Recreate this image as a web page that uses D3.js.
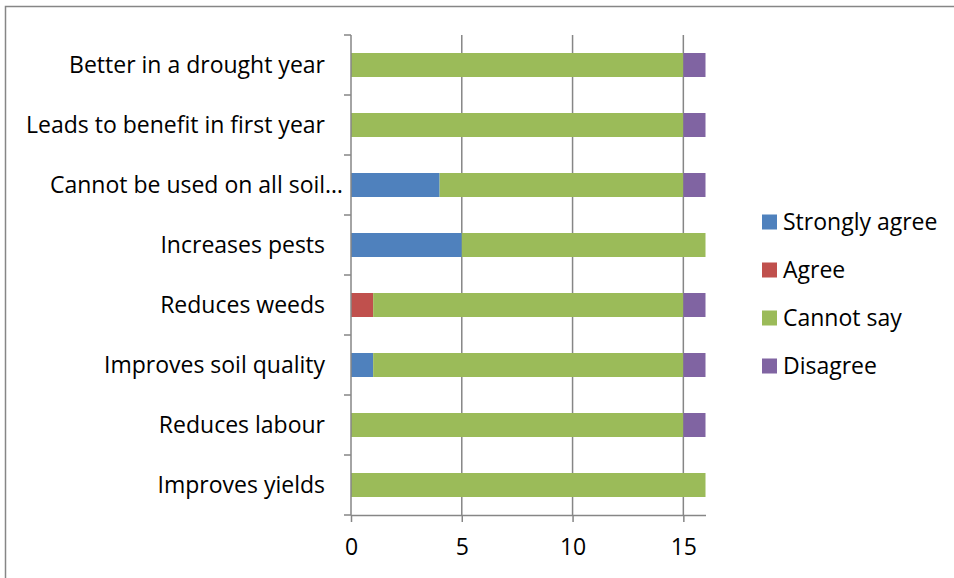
<!DOCTYPE html>
<html>
<head>
<meta charset="utf-8">
<script src="https://cdn.jsdelivr.net/npm/d3@7"></script>
<style>
  body { margin: 0; background: #fff; }
  svg text { font-family: "Open Sans", Lato, sans-serif; fill: #000; }
</style>
</head>
<body>
<div id="CHART"></div>
<script>
// ---------------- data ----------------
var categories = ["Better in a drought year", "Leads to benefit in first year", "Cannot be used on all soil\u2026",
  "Increases pests", "Reduces weeds", "Improves soil quality", "Reduces labour", "Improves yields"];
var seriesNames = ["Strongly agree", "Agree", "Cannot say", "Disagree"];
var stronglyAgree = [0, 0, 4, 5, 0, 1, 0, 0];
var agree = [0, 0, 0, 0, 1, 0, 0, 0];
var cannotSay = [15, 15, 11, 11, 14, 14, 15, 16];
var disagree = [1, 1, 1, 0, 1, 1, 1, 0];
var xTicks = [0, 5, 10, 15];
var colors = ["#4F81BD", "#C0504D", "#9BBB59", "#8064A2"];

// ---------------- svg ----------------
var width = 954, height = 578;
var fontSize = "23px";
var svg = d3.select("#CHART").append("svg")
  .attr("width", width)
  .attr("height", height);

svg.append("rect")
  .attr("x", 5.5).attr("y", 6.5)
  .attr("width", 980).attr("height", 600)
  .attr("fill", "none").attr("stroke", "#868686").attr("stroke-width", 1.5);

var x = d3.scaleLinear().domain([0, 16]).range([351, 705.5]);
var y = d3.scaleBand().domain(categories).range([35, 515]).paddingInner(0.6).paddingOuter(0.3);

var table = categories.map(function (c, i) {
  return { cat: c, "Strongly agree": stronglyAgree[i], "Agree": agree[i], "Cannot say": cannotSay[i], "Disagree": disagree[i] };
});
var stacked = d3.stack().keys(seriesNames)(table);

// gridlines
svg.append("g")
  .selectAll("line")
  .data(xTicks.filter(function (d) { return d > 0; }))
  .enter().append("line")
  .attr("x1", function (d) { return x(d); })
  .attr("x2", function (d) { return x(d); })
  .attr("y1", 35).attr("y2", 515)
  .attr("stroke", "#868686").attr("stroke-width", 1.5);

// bars
svg.append("g")
  .selectAll("g")
  .data(stacked)
  .enter().append("g")
  .attr("fill", function (d, i) { return colors[i]; })
  .selectAll("rect")
  .data(function (d) { return d; })
  .enter().append("rect")
  .attr("x", function (d) { return x(d[0]); })
  .attr("width", function (d) { return x(d[1]) - x(d[0]); })
  .attr("y", function (d) { return y(d.data.cat); })
  .attr("height", y.bandwidth());

// y axis (category ticks at band boundaries)
var yAxis = svg.append("g");
yAxis.append("line")
  .attr("x1", 351).attr("x2", 351).attr("y1", 35).attr("y2", 515)
  .attr("stroke", "#868686").attr("stroke-width", 1.5);
var bounds = categories.map(function (c) { return y(c) - y.step() * y.paddingInner() / 2; });
bounds.push(515);
yAxis.selectAll("line.tk")
  .data(bounds)
  .enter().append("line")
  .attr("class", "tk")
  .attr("x1", 344).attr("x2", 351)
  .attr("y1", function (d) { return d; }).attr("y2", function (d) { return d; })
  .attr("stroke", "#868686").attr("stroke-width", 1.5);
yAxis.selectAll("text")
  .data(categories)
  .enter().append("text")
  // truncated label (ellipsis) sits closer to the axis, like Excel does
  .attr("x", function (d) { return d.slice(-1) == "\u2026" ? 343 : 325; })
  .attr("y", function (d) { return y(d) + y.bandwidth() / 2; })
  .attr("dy", "0.35em")
  .attr("text-anchor", "end")
  .style("font-size", fontSize)
  .text(function (d) { return d; });

// x axis
var xAxis = svg.append("g")
  .attr("transform", "translate(0,515)")
  .call(d3.axisBottom(x).tickValues(xTicks).tickSize(7).tickSizeOuter(0).tickPadding(17));
xAxis.select(".domain").attr("stroke", "#868686").attr("stroke-width", 1.5);
xAxis.selectAll(".tick line").attr("stroke", "#868686").attr("stroke-width", 1.5);
xAxis.selectAll(".tick text").style("font-size", fontSize);
xAxis.attr("font-family", null).attr("font-size", null);

// legend
var legend = svg.append("g")
  .selectAll("g")
  .data(seriesNames)
  .enter().append("g")
  .attr("transform", function (d, i) { return "translate(762," + (222 + i * 48) + ")"; });
legend.append("rect")
  .attr("x", 0).attr("y", -7.5)
  .attr("width", 15).attr("height", 15)
  .attr("fill", function (d, i) { return colors[i]; });
legend.append("text")
  .attr("x", 21)
  .attr("dy", "0.35em")
  .style("font-size", fontSize)
  .text(function (d) { return d; });
</script>
</body>
</html>
